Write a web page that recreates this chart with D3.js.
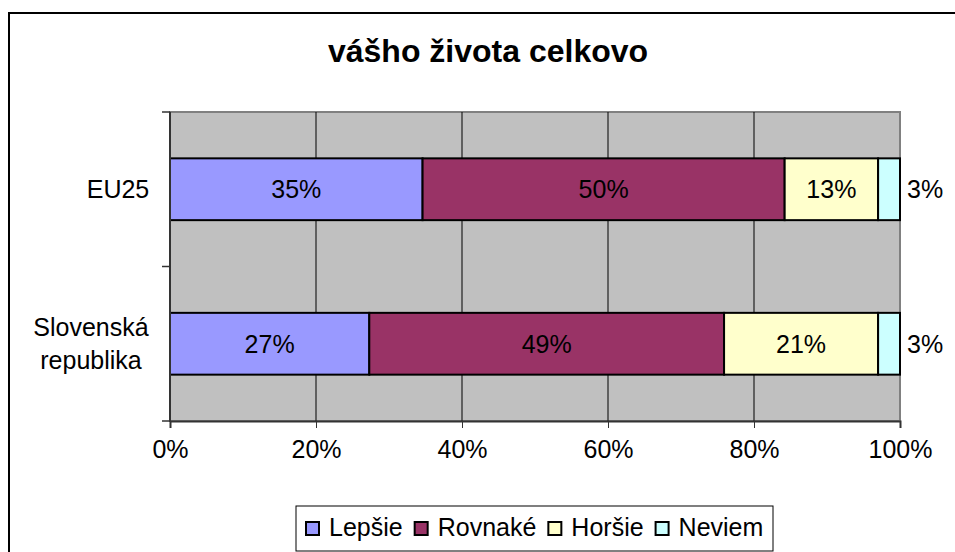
<!DOCTYPE html>
<html>
<head>
<meta charset="utf-8">
<script src="https://cdn.jsdelivr.net/npm/d3@7"></script>
<style>
  body { margin: 0; background: #fff; }
  svg { display: block; font-family: "Liberation Sans", Arial, sans-serif; }
</style>
</head>
<body>
<svg id="chart" width="955" height="552"></svg>
<script>
// data (percent)
const categories = ["EU25", "Slovenská republika"]
const series = ["Lepšie", "Rovnaké", "Horšie", "Neviem"]
const lepsie = [34.6, 27.3]
const rovnake = [49.6, 48.6]
const horsie = [12.8, 21.1]
const neviem = [3.0, 3.0]
const xTicks = [0, 20, 40, 60, 80, 100]
const colors = ["#9999FF", "#993366", "#FFFFCC", "#CCFFFF"]

const values = [lepsie, rovnake, horsie, neviem]
const rows = categories.map((c, i) => {
  let r = { cat: c }
  series.forEach((s, j) => r[s] = values[j][i])
  return r
})
const stacked = d3.stack().keys(series)(rows)

const svg = d3.select("#chart")
const fs = "25px"

// outer frame
svg.append("rect").attr("x", 9).attr("y", 13).attr("width", 960).attr("height", 560)
  .attr("fill", "#fff").attr("stroke", "#000").attr("stroke-width", 2)

// title
svg.append("text").text("vášho života celkovo").attr("x", 488).attr("y", 62)
  .attr("text-anchor", "middle").style("font-weight", "bold").style("font-size", "32px")

const x = d3.scaleLinear().domain([0, 100]).range([170, 900])
const y = d3.scaleBand().domain(categories).range([112, 421]).paddingInner(0.6).paddingOuter(0.3)

// plot background
svg.append("rect").attr("x", x(0)).attr("y", 112).attr("width", x(100) - x(0)).attr("height", 421 - 112)
  .attr("fill", "#C0C0C0").attr("stroke", "#808080").attr("stroke-width", 2)

// vertical grid lines
svg.selectAll(".grid").data(xTicks.slice(1, -1)).enter().append("line")
  .attr("x1", d => x(d)).attr("x2", d => x(d)).attr("y1", 112).attr("y2", 421)
  .attr("stroke", "#000").attr("stroke-width", 1)

// bars
svg.selectAll(".layer").data(stacked).enter().append("g")
  .attr("fill", (d, i) => colors[i])
  .selectAll("rect").data(d => d).enter().append("rect")
  .attr("x", d => x(d[0])).attr("width", d => x(d[1]) - x(d[0]))
  .attr("y", d => y(d.data.cat)).attr("height", y.bandwidth())
  .attr("stroke", "#000").attr("stroke-width", 2)

// data labels
stacked.forEach((layer, li) => {
  layer.forEach(d => {
    const outside = li == series.length - 1
    svg.append("text").text(Math.round(d[1] - d[0]) + "%")
      .attr("x", outside ? x(100) + 7 : (x(d[0]) + x(d[1])) / 2)
      .attr("y", y(d.data.cat) + y.bandwidth() / 2).attr("dy", "0.35em")
      .attr("text-anchor", outside ? "start" : "middle").style("font-size", fs)
  })
})

// x axis
const xAxis = svg.append("g").attr("transform", "translate(0,421)")
  .call(d3.axisBottom(x).tickValues(xTicks).tickFormat(d => d + "%").tickSize(7).tickPadding(12))
xAxis.select(".domain").attr("stroke", "#333").attr("stroke-width", 2)
xAxis.selectAll(".tick line").attr("stroke", "#333")
xAxis.selectAll("text").style("font-size", fs).style("font-family", "inherit").attr("fill", "#000")

// y axis line and ticks at band edges
svg.append("line").attr("x1", x(0)).attr("x2", x(0)).attr("y1", 112).attr("y2", 422)
  .attr("stroke", "#333").attr("stroke-width", 2)
const edges = d3.range(categories.length + 1).map(i => y.range()[0] + i * y.step())
svg.selectAll(".ytick").data(edges).enter().append("line")
  .attr("x1", x(0) - 8).attr("x2", x(0)).attr("y1", d => d).attr("y2", d => d)
  .attr("stroke", "#333").attr("stroke-width", 1.5)

// category labels
categories.forEach(c => {
  const words = c.split(" ")
  const cy = y(c) + y.bandwidth() / 2
  const t = svg.append("text").attr("text-anchor", "middle").style("font-size", fs)
  const lineH = 33
  const cx = words.length > 1 ? 91 : 118
  words.forEach((w, i) => {
    t.append("tspan").text(w).attr("x", cx)
      .attr("y", cy + (i - (words.length - 1) / 2) * lineH).attr("dy", "0.35em")
  })
})

// legend
const legend = svg.append("g")
legend.append("rect").attr("x", 296).attr("y", 506).attr("width", 477).attr("height", 45)
  .attr("fill", "#fff").attr("stroke", "#000").attr("stroke-width", 1)
let lx = 306
series.forEach((s, i) => {
  legend.append("rect").attr("x", lx).attr("y", 522).attr("width", 13).attr("height", 13)
    .attr("fill", colors[i]).attr("stroke", "#000").attr("stroke-width", 2)
  const t = legend.append("text").text(s).attr("x", lx + 23).attr("y", 536).style("font-size", fs)
  lx += 23 + t.node().getComputedTextLength() + 12
})
</script>
</body>
</html>
